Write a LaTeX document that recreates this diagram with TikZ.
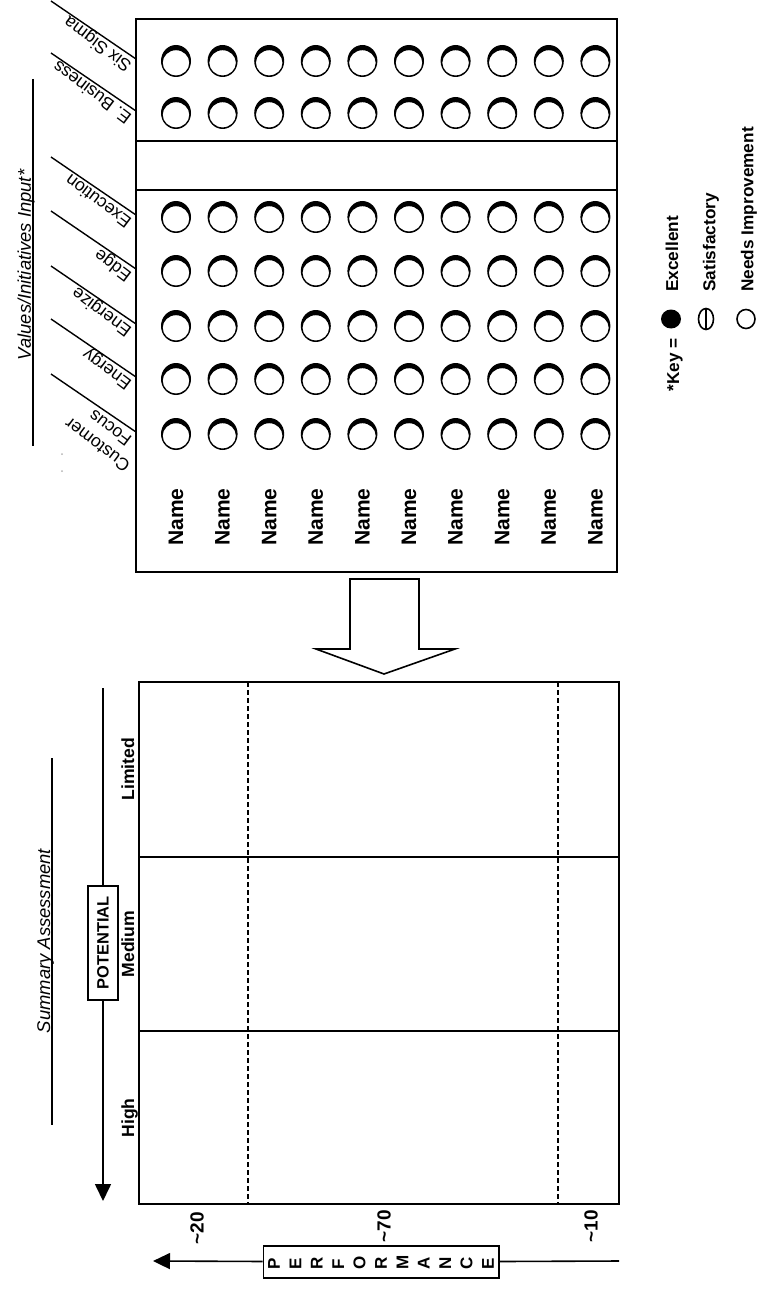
\documentclass[tikz,border=0pt]{standalone}
\usepackage{fontspec}
\setmainfont{Liberation Sans}
\usepackage{tikz}
\usetikzlibrary{positioning,arrows.meta,calc}

\newcommand{\vletter}[1]{\makebox[10.7pt]{\rotatebox{90}{#1}}}

\begin{document}
\begin{tikzpicture}[x=0.5pt, y=-0.5pt,
    hdr/.style={font=\fontsize{8.8}{10.5}\selectfont, rotate=143, inner sep=0pt},
    namelbl/.style={font=\fontsize{10.5}{12}\selectfont\bfseries, rotate=90},
    keytxt/.style={font=\fontsize{8.6}{10}\selectfont\bfseries, rotate=90, inner sep=0pt},
    rowlbl/.style={font=\fontsize{8.8}{10}\selectfont\bfseries, rotate=90, inner sep=0pt},
    pct/.style={font=\fontsize{9.5}{11}\selectfont\bfseries, rotate=90},
    ttl/.style={font=\fontsize{9.2}{11}\selectfont\itshape, rotate=90, inner sep=0pt},
    frame/.style={line width=0.9pt},
    divider/.style={line width=0.7pt},
    guide/.style={line width=0.6pt, dash pattern=on 2.5pt off 1.5pt},
    axis/.style={line width=0.8pt}]
    \useasboundingbox (0,0) rectangle (768,1289);

    % =========================================================
    % RATING GRID (names x values)
    % =========================================================
    \draw[frame] (136,19) rectangle (617,572);
    \draw[divider] (136,141) -- (617,141);
    \draw[divider] (136,190) -- (617,190);

    % one row of rings per value, with its slanted header line
    \foreach \ry/\rname in {61/six, 113/ebiz, 217/exec, 271/edge, 326/enz, 379/eny, 434/cust} {
        \foreach \k in {0,...,9} {
            \fill[even odd rule] ({176+46.6*\k},\ry) ellipse [x radius=15, y radius=16]
                ({176+46.6*\k},\ry+1.8) ellipse [x radius=13.3, y radius=12.6];
        }
        \coordinate (\rname) at (136,\ry-2);
        \draw[divider] (\rname) -- ++(-85,-58);
    }

    % slanted headers
    \node[hdr, anchor=base west] (lSix)  at ($(six)+(-3,5)$)  {Six Sigma};
    \node[hdr, anchor=base west] (lEbiz) at ($(ebiz)+(-3,5)$) {E. Business};
    \node[hdr, anchor=base west] (lExec) at ($(exec)+(-3,5)$) {Execution};
    \node[hdr, anchor=base west] (lEdge) at ($(edge)+(-3,5)$) {Edge};
    \node[hdr, anchor=base west] (lEnz)  at ($(enz)+(-3,5)$)  {Energize};
    \node[hdr, anchor=base west] (lEny)  at ($(eny)+(-3,5)$)  {Energy};
    \node[hdr, align=center, anchor=south] (lCust) at ($(cust)+(-22,-9)$) {Customer\\Focus};

    % title of the grid
    \draw[divider] (33,79) -- (33,446);
    \node[ttl, anchor=base] (valTtl) at (31,265) {Values/Initiatives Input*};
    \fill[gray!60] (62,454) circle [radius=1];
    \fill[gray!60] (62,471) circle [radius=1];

    % names
    \foreach \k in {1,...,10}
        \node[namelbl] (nm\k) at ({176+46.6*(\k-1)},517) {Name};

    % key
    \node[keytxt, anchor=east] (keyLbl) at (675,338) {*Key =};
    \fill (671,319) ellipse [x radius=10, y radius=9.5];
    \draw[axis] (706,319) ellipse [x radius=7.5, y radius=10.5];
    \draw[axis] (706,308.5) -- (706,329.5);
    \draw[axis] (746,319) ellipse [x radius=9, y radius=9.5];
    \node[keytxt, anchor=west] (keyExc) at (672,292) {Excellent};
    \node[keytxt, anchor=west] (keySat) at (711,292) {Satisfactory};
    \node[keytxt, anchor=west] (keyNI)  at (749,292) {Needs Improvement};

    % hollow arrow
    \draw[axis] (350,579) -- (419,579) -- (419,649) -- (455,649) -- (384,674)
        -- (316,649) -- (350,649) -- cycle;

    % =========================================================
    % SUMMARY ASSESSMENT
    % =========================================================
    \draw[frame] (139,682) rectangle (619,1204);
    \draw[divider] (139,857) -- (619,857);
    \draw[divider] (139,1031) -- (619,1031);
    \draw[guide] (248,682) -- (248,1204);
    \draw[guide] (558,682) -- (558,1204);

    \node[rowlbl, anchor=base] (rLim)  at (134,769)  {Limited};
    \node[rowlbl, anchor=base] (rMed)  at (134,944)  {Medium};
    \node[rowlbl, anchor=base] (rHigh) at (134,1118) {High};

    % potential axis
    \coordinate (potTop) at (103,688);
    \coordinate (potEnd) at (103,1201);
    \node[draw, axis, rotate=90, font=\fontsize{8.2}{10}\selectfont\bfseries,
        minimum width=57pt, minimum height=15pt, inner sep=1pt] (pot) at (103,943) {POTENTIAL};
    \draw[axis] (potTop) -- (pot);
    \draw[axis, -{Triangle[length=8.5pt, width=8pt]}] (pot) -- (potEnd);

    \draw[divider] (52,758) -- (52,1125);
    \node[ttl, anchor=base] (sumTtl) at (50,941) {Summary Assessment};

    % performance axis
    \node[pct] (p20) at (197,1228) {\textasciitilde20};
    \node[pct] (p70) at (384,1226) {\textasciitilde70};
    \node[pct] (p10) at (591,1226) {\textasciitilde10};

    \coordinate (perfStart) at (619,1261);
    \coordinate (perfEnd) at (153,1261);
    \node[draw, axis, font=\fontsize{8.5}{10}\selectfont\bfseries, minimum height=16pt,
        inner sep=0pt] (perf) at (381,1262)
        {\vletter{P}\vletter{E}\vletter{R}\vletter{F}\vletter{O}\vletter{R}\vletter{M}\vletter{A}\vletter{N}\vletter{C}\vletter{E}};
    \draw[axis] (perfStart) -- (perf);
    \draw[axis, -{Triangle[length=8.5pt, width=8pt]}] (perf) -- (perfEnd);
\end{tikzpicture}
\end{document}
